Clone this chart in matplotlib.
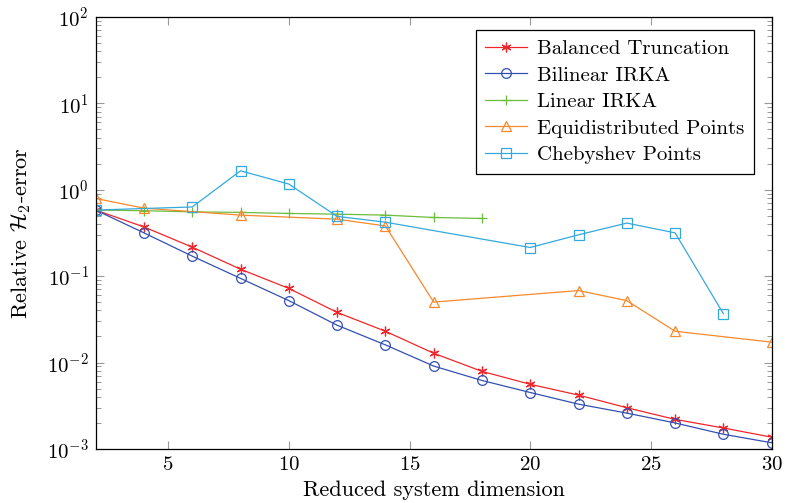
"""
Relative H2-error vs reduced system dimension, pgfplots-style log plot.
"""

import matplotlib
matplotlib.use("Agg")
import matplotlib.pyplot as plt
from matplotlib.ticker import LogLocator, FixedLocator

plt.rcParams["font.family"] = ["cmr10", "DejaVu Serif"]
plt.rcParams["mathtext.fontset"] = "cm"
plt.rcParams["axes.formatter.use_mathtext"] = True
plt.rcParams["axes.unicode_minus"] = False

# data
bt_x = [2, 4, 6, 8, 10, 12, 14, 16, 18, 20, 22, 24, 26, 28, 30]
bt_y = [0.58, 0.37, 0.216, 0.12, 0.072, 0.038, 0.023, 0.0128, 0.0079,
        0.0056, 0.0042, 0.0030, 0.0022, 0.00175, 0.00137]

birka_x = [2, 4, 6, 8, 10, 12, 14, 16, 18, 20, 22, 24, 26, 28, 30]
birka_y = [0.58, 0.316, 0.17, 0.094, 0.052, 0.027, 0.016, 0.0091, 0.0062,
           0.0045, 0.0033, 0.0026, 0.0020, 0.00148, 0.00118]

lirka_x = [2, 4, 6, 8, 10, 12, 14, 16, 18]
lirka_y = [0.58, 0.57, 0.553, 0.545, 0.53, 0.52, 0.507, 0.476, 0.464]

equi_x = [2, 4, 8, 12, 14, 16, 22, 24, 26, 30]
equi_y = [0.79, 0.61, 0.507, 0.455, 0.38, 0.050, 0.068, 0.052, 0.023, 0.0172]

cheb_x = [2, 6, 8, 10, 12, 14, 20, 22, 24, 26, 28]
cheb_y = [0.58, 0.63, 1.65, 1.16, 0.49, 0.42, 0.214, 0.30, 0.41, 0.316, 0.0367]

series = [
    ("Balanced Truncation", bt_x, bt_y, "#f0262b", (6, 2, 0), 7),
    ("Bilinear IRKA", birka_x, birka_y, "#3350b0", "o", 7),
    ("Linear IRKA", lirka_x, lirka_y, "#6cbd3c", "+", 7.5),
    ("Equidistributed Points", equi_x, equi_y, "#f7892c", "^", 6.5),
    ("Chebyshev Points", cheb_x, cheb_y, "#35a9dc", "s", 6.5),
]

fig = plt.figure(figsize=(7.85, 5.03), dpi=100)
ax = fig.add_axes([0.1219, 0.1074, 0.8611, 0.8594])

for label, xs, ys, color, marker, ms in series:
    ax.plot(xs, ys, color=color, lw=0.9, marker=marker, ms=ms,
            mfc="none", mec=color, mew=0.9, label=label)

ax.set_yscale("log")
ax.set_xlim(2, 30)
ax.set_ylim(1e-3, 1e2)
ax.xaxis.set_major_locator(FixedLocator([5, 10, 15, 20, 25, 30]))
ax.yaxis.set_major_locator(LogLocator(base=10, numticks=10))
ax.yaxis.set_minor_locator(LogLocator(base=10, subs=range(2, 10), numticks=10))

ax.tick_params(which="both", direction="in", top=True, right=True,
               color="0.6", labelsize=15)
ax.tick_params(which="major", length=6, width=0.8, pad=5)
ax.tick_params(which="minor", length=3.5, width=0.7)
for sp in ax.spines.values():
    sp.set_linewidth(0.9)

ax.set_xlabel("Reduced system dimension", fontsize=16, labelpad=5)
ax.set_ylabel(r"Relative $\mathcal{H}_2$-error", fontsize=16, labelpad=10)

leg = ax.legend(loc="upper right", fontsize=15, fancybox=False, framealpha=1,
                edgecolor="black", borderpad=0.45, labelspacing=0.38,
                handlelength=2.0, handletextpad=0.5, borderaxespad=0.65,
                bbox_to_anchor=(0.994, 1.0))
leg.get_frame().set_linewidth(0.9)

fig.savefig("out.png", dpi=100)
